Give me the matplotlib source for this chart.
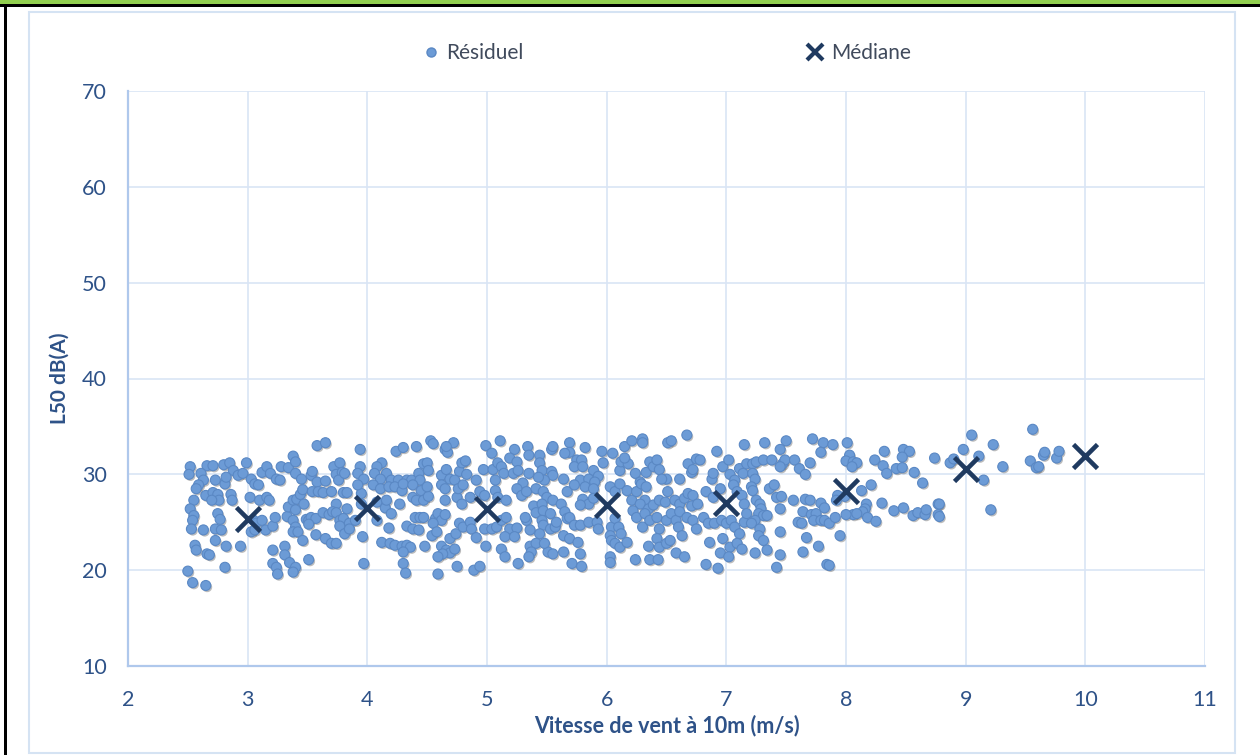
import matplotlib
matplotlib.use("Agg")
import matplotlib.pyplot as plt
import matplotlib.patheffects as pe
from matplotlib.lines import Line2D
from matplotlib.patches import Rectangle

plt.rcParams['font.family'] = ['Lato', 'DejaVu Sans']

# ---- Data: residual noise points (wind speed m/s, L50 dB(A)) ----
res_x_a = [2.52,2.51,2.66,2.71,2.80,2.85,2.88,2.99,2.61,2.63,2.59,2.57,2.73,2.81,2.82,2.92,2.96,3.03,3.06,3.09,
           3.02,3.10,3.12,3.16,3.19,3.24,3.27,3.28,3.34,3.38,3.40,3.40,3.45,3.53,3.54,3.58,3.65,3.72,3.77,3.74,
           3.79,3.76,3.81,3.94,3.94,3.92,3.97,3.58,3.65,
           2.65,2.71,2.75,2.76,2.70,2.55,2.52,2.55,2.54,2.53,2.63,2.73,2.78,2.75,2.77,2.86,2.87,2.73,2.82,2.94,
           2.56,2.57,2.66,2.68,2.81,2.50,2.54,2.65,
           3.05,3.07,3.12,3.03,3.06,3.15,3.21,3.23,3.16,3.18,3.33,3.38,3.40,3.38,3.42,3.34,3.38,3.41,3.44,3.46,
           3.47,3.49,3.51,3.53,3.57,3.51,3.40,3.57,3.46,3.65,3.70,3.74,3.54,3.59,3.63,3.70,3.74,3.63,3.68,3.71,
           3.74,3.77,3.80,3.85,3.77,3.81,3.85,3.90,3.95,3.95,3.92,3.96,3.80,3.83,3.83,
           3.21,3.31,3.31,3.21,3.24,3.25,3.35,3.40,3.38,3.51,3.97]
res_y_a = [30.8,30.0,30.9,30.9,31.0,31.2,30.4,31.2,30.1,29.4,28.9,28.5,29.4,29.0,29.7,29.9,30.1,29.5,29.0,28.9,
           27.6,27.3,30.2,30.8,30.1,29.5,29.4,30.8,30.7,31.9,31.3,30.1,29.5,29.9,30.3,29.2,29.3,30.8,31.2,30.0,
           30.2,29.4,30.1,32.6,30.8,30.1,29.5,33.0,33.3,
           27.8,28.1,27.9,27.3,27.3,27.3,26.4,25.7,25.2,24.3,24.2,24.3,24.2,25.9,25.3,27.9,27.3,23.1,22.5,22.5,
           22.6,22.1,21.7,21.6,20.3,19.9,18.7,18.4,
           25.2,24.9,25.2,24.0,24.2,24.2,24.6,25.5,27.6,27.3,25.6,25.2,24.5,24.0,24.0,26.6,27.3,27.4,27.9,28.4,
           26.9,25.3,25.2,25.5,25.4,24.8,26.3,23.7,23.1,23.3,22.8,22.8,28.2,28.2,28.1,28.2,26.9,26.0,25.8,26.1,
           26.0,25.2,25.4,24.9,24.6,23.8,24.3,25.2,26.9,28.0,28.9,23.5,28.1,28.1,26.4,
           22.1,22.5,21.6,20.7,20.3,19.6,20.8,20.3,19.8,21.1,20.7]

res_x_b = [4.24,4.30,4.41,4.53,4.55,4.65,4.67,4.72,4.66,4.99,5.11,5.04,5.23,5.19,5.25,5.34,5.35,5.44,5.54,5.55,
           4.12,4.08,4.16,4.06,4.11,4.20,4.26,4.33,4.37,4.43,4.47,4.50,4.51,4.44,4.62,4.66,4.69,4.77,4.79,4.82,
           4.83,4.73,4.91,4.97,5.05,5.09,5.12,5.14,5.07,5.22,5.26,5.30,5.35,5.44,5.46,5.54,5.55,5.48,5.43,
           4.05,4.11,4.18,4.23,4.29,4.30,4.38,4.38,4.41,4.45,4.47,4.51,4.50,4.62,4.65,4.65,4.75,4.76,4.80,4.79,
           4.86,4.94,4.98,5.07,5.09,5.16,5.25,5.29,5.33,5.41,5.47,5.50,5.39,5.46,5.55,4.08,4.15,4.20,4.27,4.16,
           4.08,4.18,4.33,4.38,4.43,4.40,4.44,4.47,4.57,4.59,4.62,4.65,4.55,4.54,4.58,4.69,4.74,4.77,4.80,4.86,
           4.87,4.91,4.98,5.04,5.08,5.12,5.16,5.19,5.25,5.15,5.23,5.33,5.32,5.41,5.47,5.53,5.46,5.47,5.53,5.57,
           5.58,5.44,5.36,
           4.12,4.19,4.23,4.29,4.33,4.36,4.30,4.48,4.62,4.66,4.69,4.73,4.63,4.59,4.99,5.12,5.15,5.36,5.41,5.37,
           5.51,5.55,4.30,4.32,4.59,4.75,4.89,4.94,5.26,5.35,5.48]
res_y_b = [32.4,32.8,32.9,33.5,33.2,32.6,32.3,33.3,32.9,33.0,33.5,32.2,32.6,31.7,31.3,32.9,32.0,32.0,32.6,32.9,
           31.2,30.8,30.1,30.1,29.5,29.4,29.4,29.4,29.4,30.1,31.1,31.2,30.4,29.4,29.9,30.5,29.5,30.3,31.2,31.4,
           30.0,29.4,29.4,30.5,30.5,31.2,30.8,30.1,29.4,30.1,30.4,29.1,30.1,31.2,30.4,30.3,29.9,29.4,29.7,
           28.9,28.5,28.7,28.7,28.3,29.0,28.9,27.6,27.3,28.3,27.3,27.7,28.7,28.9,28.5,27.3,27.6,28.5,28.9,26.9,
           27.6,28.2,27.8,28.3,27.6,27.3,28.5,27.8,28.2,28.5,28.2,27.6,26.7,26.9,27.3,27.1,26.5,25.9,26.9,27.3,
           25.2,24.4,24.6,24.3,24.2,25.5,25.5,25.5,25.4,25.9,25.2,25.8,24.9,23.6,24.0,23.3,23.8,24.9,24.5,25.0,
           24.3,23.4,24.3,24.3,24.5,25.2,25.5,24.3,24.4,23.5,23.5,25.2,25.5,26.0,26.2,25.9,25.2,24.7,24.3,24.5,
           25.0,23.8,24.2,
           22.9,22.8,22.6,22.5,22.6,22.4,21.9,22.5,22.5,22.1,21.8,22.2,21.7,21.4,22.5,22.2,21.4,22.5,22.8,21.9,
           21.9,21.7,20.7,19.7,19.6,20.4,20.0,20.4,20.7,21.4,22.8]

res_x_c = [5.69,5.69,5.65,5.82,5.96,6.05,6.15,6.21,6.30,6.30,6.51,6.54,6.67,6.92,7.15,
           5.75,5.79,5.73,5.80,5.64,5.89,5.97,6.11,6.12,6.18,6.15,6.24,6.28,6.33,6.36,6.39,6.42,6.44,6.50,6.46,
           6.61,6.68,6.71,6.75,6.78,6.72,6.88,6.89,6.97,7.02,7.03,7.07,7.11,7.14,7.17,5.78,5.85,5.93,
           5.67,5.73,5.82,5.90,5.89,5.80,5.85,5.78,5.89,6.03,6.07,6.11,6.17,6.21,6.25,6.29,6.33,6.32,6.28,6.35,
           6.39,6.44,6.49,6.51,6.57,6.61,6.65,6.68,6.72,6.71,6.76,6.83,6.89,6.95,7.06,7.09,7.13,7.15,5.62,
           5.65,5.67,5.69,5.73,5.78,5.85,5.92,5.93,6.04,6.07,6.10,6.12,6.03,6.22,6.25,6.32,6.30,6.36,6.42,6.44,
           6.50,6.54,6.58,6.60,6.61,6.67,6.72,6.75,6.81,6.85,6.90,6.96,7.00,7.04,7.07,7.11,7.15,7.17,
           5.64,5.69,5.76,5.78,5.64,5.71,5.79,6.04,6.07,6.11,6.17,6.24,6.35,6.36,6.42,6.44,6.43,6.50,6.53,6.58,
           6.63,6.65,6.83,6.86,6.93,6.95,6.97,7.03,7.02,7.09,7.13,6.03,6.03]
res_y_c = [33.3,32.3,32.2,32.8,32.4,32.2,32.9,33.5,33.7,33.3,33.3,33.5,34.1,32.4,33.1,
           31.5,31.5,30.8,30.8,29.5,30.4,31.2,30.4,31.3,31.1,31.7,30.1,29.2,30.2,31.3,30.8,31.5,30.5,29.5,29.5,
           29.5,31.1,30.2,31.6,31.5,30.5,29.5,30.1,30.8,31.5,30.0,29.4,30.6,30.1,31.1,29.4,29.5,29.8,
           28.2,28.9,28.7,29.2,28.5,27.4,26.9,26.8,27.5,28.7,28.2,29.0,28.3,27.3,28.2,29.0,28.7,27.3,26.9,26.4,
           26.8,27.3,27.1,28.2,27.3,26.9,27.5,28.0,27.8,26.7,26.9,28.2,27.6,28.5,28.9,28.2,27.8,26.9,26.9,
           26.1,25.4,25.5,24.7,24.7,25.0,25.0,24.3,24.5,25.4,24.5,23.8,23.6,26.2,25.5,25.9,24.5,25.2,25.5,24.3,
           25.2,25.9,25.2,24.5,26.1,25.5,25.2,24.3,25.5,24.9,24.9,25.2,24.9,25.2,24.5,23.8,25.0,25.9,
           23.6,23.3,22.9,21.7,21.9,20.7,20.4,23.1,22.8,22.4,22.9,21.1,22.5,21.1,23.3,22.4,21.1,22.8,23.1,21.8,
           23.6,21.4,20.6,22.9,20.2,21.8,23.3,22.4,21.4,22.8,22.2,21.4,20.8]

res_x_d = [7.32,7.50,7.45,7.72,7.81,7.79,7.89,8.01,8.03,8.00,8.06,8.09,8.05,8.24,8.32,8.31,8.34,8.42,8.47,8.48,
           8.53,8.47,8.57,8.64,8.74,
           7.22,7.25,7.31,7.38,7.47,7.49,7.57,7.61,7.66,7.70,7.45,7.22,7.24,7.21,7.22,7.25,7.28,7.29,7.27,7.31,
           7.24,7.34,7.21,7.28,7.27,7.31,7.34,7.24,7.36,7.40,7.42,7.46,7.45,7.56,7.66,7.70,7.79,7.82,7.64,7.71,
           7.75,7.73,7.60,7.63,7.79,7.82,7.86,7.91,7.95,8.17,8.16,8.14,8.06,8.00,8.09,8.18,8.25,8.21,8.13,7.99,
           7.93,7.92,8.30,8.40,8.48,8.56,8.60,8.66,8.67,8.77,8.77,7.45,7.67,7.64,7.77,7.42,7.45,7.84,7.86,
           8.87,8.90,8.98,9.05,9.11,9.23,9.31,9.15,9.21,8.78,8.78,9.56,9.54,9.59,9.61,9.65,9.66,9.76,9.78]
res_y_d = [33.3,33.5,32.6,33.7,33.3,32.3,33.1,33.3,32.0,31.4,31.3,31.2,30.8,31.5,32.4,30.9,30.1,30.6,30.7,32.6,
           32.4,31.8,30.2,29.1,31.7,
           31.1,31.3,31.5,31.5,31.1,31.5,31.5,30.6,30.0,31.2,30.8,30.1,29.5,28.7,28.3,27.3,26.9,26.4,25.9,25.7,
           25.2,25.7,24.9,24.3,23.6,23.1,22.1,21.8,28.5,28.9,27.6,27.7,26.4,27.3,27.4,27.3,27.0,26.5,26.1,25.8,
           25.9,25.2,25.0,24.9,25.2,25.2,24.9,25.5,23.6,26.9,26.4,26.1,25.8,25.8,25.9,25.5,25.1,28.9,28.3,27.7,
           27.8,27.3,27.0,26.2,26.5,25.7,26.0,25.8,26.3,26.9,25.8,24.0,23.4,21.9,22.5,20.3,21.6,20.6,20.5,
           31.2,31.6,32.6,34.1,31.9,33.1,30.8,29.4,26.3,26.9,25.6,34.7,31.4,30.7,30.8,32.0,32.3,31.7,32.4]

residual_x = res_x_a + res_x_b + res_x_c + res_x_d
residual_y = res_y_a + res_y_b + res_y_c + res_y_d

# ---- Data: medians per wind speed ----
median_x = [3, 4, 5, 6, 7, 8, 9, 10]
median_y = [25.3, 26.5, 26.4, 26.8, 27.0, 28.3, 30.6, 31.9]

x_ticks = [2, 3, 4, 5, 6, 7, 8, 9, 10, 11]
y_ticks = [10, 20, 30, 40, 50, 60, 70]

label_residual = "Résiduel"
label_median = "Médiane"
xlabel = "Vitesse de vent à 10m (m/s)"
ylabel = "L50 dB(A)"

# ---- Styling ----
W, H = 1260, 755
fig = plt.figure(figsize=(W / 100, H / 100), dpi=100)
fig.patch.set_facecolor('white')

# outer decorations (green bar on top, black borders)
fig.patches.append(Rectangle((0, 1 - 4.5 / H), 1, 4.5 / H, transform=fig.transFigure,
                             facecolor='#92D050', edgecolor='none', zorder=0))
fig.patches.append(Rectangle((0, 1 - 7 / H), 1, 2.5 / H, transform=fig.transFigure,
                             facecolor='black', edgecolor='none', zorder=0))
fig.patches.append(Rectangle((4 / W, 0), 2.8 / W, 1 - 4.5 / H, transform=fig.transFigure,
                             facecolor='black', edgecolor='none', zorder=0))
# chart area frame
fig.patches.append(Rectangle((29 / W, 2 / H), (1235 - 29) / W, (743 - 2) / H,
                             transform=fig.transFigure, facecolor='none',
                             edgecolor='#D5E3F3', linewidth=1.5, zorder=0))

ax = fig.add_axes([128 / W, 1 - 666 / H, (1205 - 128) / W, (666 - 91) / H])
ax.set_xlim(2, 11)
ax.set_ylim(10, 70)
ax.set_xticks(x_ticks)
ax.set_yticks(y_ticks)

ax.grid(True, color='#D9E5F5', linewidth=1.2, zorder=0)
ax.set_axisbelow(True)
for s in ['top', 'right']:
    ax.spines[s].set_visible(False)
for s in ['left', 'bottom']:
    ax.spines[s].set_color('#AFC8EC')
    ax.spines[s].set_linewidth(1.6)

tick_color = '#2E5288'
ax.tick_params(axis='both', length=0, labelsize=15.5, labelcolor=tick_color)
ax.tick_params(axis='x', pad=17.5)
ax.tick_params(axis='y', pad=15.4)

sc = ax.scatter(residual_x, residual_y, s=52, color='#6C9BD6', edgecolors='#5A88C4',
                linewidths=0.8, zorder=3, label=label_residual)
sc.set_path_effects([pe.SimplePatchShadow(offset=(1.0, -1.2), shadow_rgbFace='#404040', alpha=0.35),
                     pe.Normal()])

ax.plot(median_x, median_y, linestyle='none', marker='x', markersize=17,
        markeredgewidth=3.3, color='#1F3A60', zorder=4, label=label_median)

ax.set_xlabel(xlabel, fontsize=15.5, fontweight='bold', color='#2E5288', labelpad=2.8)
ax.set_ylabel(ylabel, fontsize=15, fontweight='bold', color='#2E5288', labelpad=8.7)

handles = [Line2D([], [], linestyle='none', marker='o', markersize=6.5, color='#6C9BD6',
                  markeredgecolor='#5A88C4'),
           Line2D([], [], linestyle='none', marker='x', markersize=11, markeredgewidth=3,
                  color='#1F3A60')]
leg = fig.legend(handles, [label_residual, label_median], loc='center',
                 bbox_to_anchor=((128 + 1205) / 2 / W, 1 - 53 / H), ncol=2, frameon=False,
                 fontsize=15, handlelength=0.8, handletextpad=0.35, columnspacing=13.6)
for t in leg.get_texts():
    t.set_color('#404A5C')

fig.savefig('out.png', dpi=100, facecolor='white')
